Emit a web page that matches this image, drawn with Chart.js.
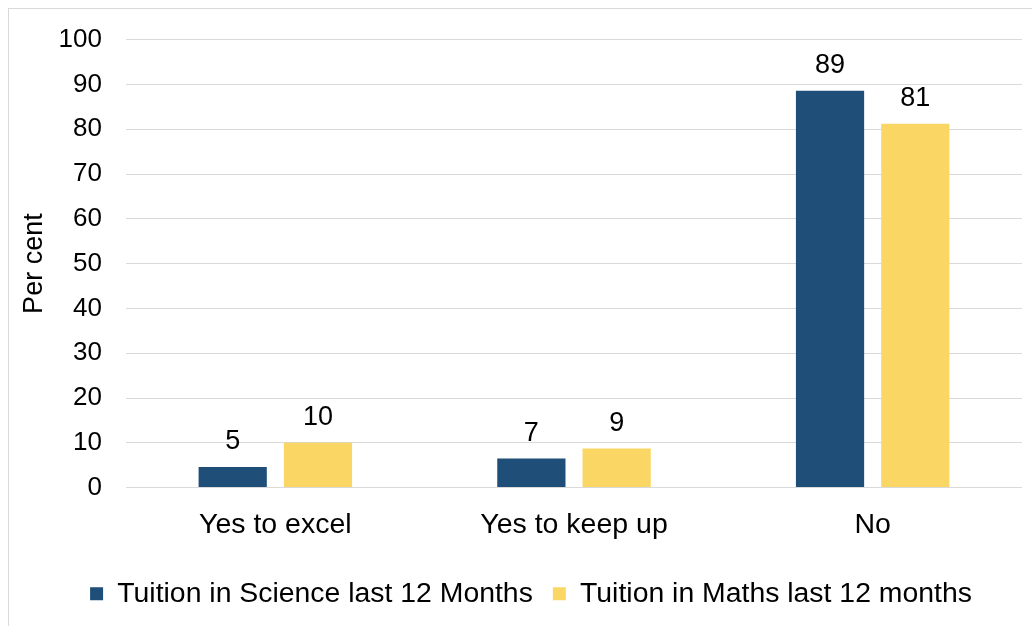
<!DOCTYPE html>
<html>
<head>
<meta charset="utf-8">
<script src="https://cdn.jsdelivr.net/npm/chart.js@4"></script>
<style>
  html, body { margin: 0; padding: 0; background: #fff; }
  #wrap { position: relative; width: 1032px; height: 626px; overflow: hidden; }
  #frame { position: absolute; left: 8px; top: 8px; width: 1040px; height: 640px; border: 1px solid #d9d9d9; }
  canvas { position: absolute; left: 0; top: 0; }
</style>
</head>
<body>
<div id="wrap">
  <div id="frame"></div>
  <canvas id="chart" width="1032" height="626"></canvas>
</div>
<script>
const categories = ["Yes to excel", "Yes to keep up", "No"];
const scienceValues = [4.6, 6.5, 88.6];
const mathsValues = [10.0, 8.7, 81.2];
const seriesNames = ["Tuition in Science last 12 Months", "Tuition in Maths last 12 months"];
const seriesColors = ["#1F4E79", "#FAD764"];

const FONT = "'Liberation Sans', Arial, sans-serif";

// nhãn giá trị trên đầu cột
const barLabels = {
  id: "barLabels",
  afterDatasetsDraw(chart) {
    const ctx = chart.ctx;
    ctx.save();
    ctx.font = "27px " + FONT;
    ctx.fillStyle = "#000";
    ctx.textAlign = "center";
    ctx.textBaseline = "middle";
    chart.data.datasets.forEach((ds, i) => {
      chart.getDatasetMeta(i).data.forEach((bar, j) => {
        ctx.fillText(String(Math.round(ds.data[j])), bar.x, bar.y - 25);
      });
    });
    ctx.restore();
  },
};

// đẩy chú thích sang phải một chút cho giống bản gốc
const legendShift = {
  id: "legendShift",
  afterLayout(chart) {
    if (!chart.legend) return;
    chart.legend.left += 20;
    chart.legend.right += 20;
  },
};

new Chart(document.getElementById("chart"), {
  type: "bar",
  data: {
    labels: categories,
    datasets: [
      { label: seriesNames[0], data: scienceValues, backgroundColor: seriesColors[0] },
      { label: seriesNames[1], data: mathsValues, backgroundColor: seriesColors[1] },
    ],
  },
  options: {
    responsive: false,
    animation: false,
    devicePixelRatio: 1,
    categoryPercentage: 0.571,
    barPercentage: 0.8,
    layout: { padding: { top: 30, right: 10, left: 0, bottom: 8 } },
    plugins: {
      legend: {
        position: "bottom",
        labels: {
          boxWidth: 13,
          boxHeight: 13,
          padding: 20,
          color: "#000",
          font: { size: 28.4, family: FONT },
        },
      },
      tooltip: { enabled: false },
    },
    scales: {
      x: {
        grid: { display: false },
        border: { display: false },
        ticks: { color: "#000", padding: 12, font: { size: 28.5, family: FONT } },
        afterFit(scale) { scale.height = 72; },
      },
      y: {
        min: 0,
        max: 100,
        ticks: { stepSize: 10, color: "#000", padding: 24, font: { size: 26, family: FONT } },
        grid: { color: "#d9d9d9", drawTicks: false },
        border: { display: false },
        title: {
          display: true,
          text: "Per cent",
          color: "#000",
          font: { size: 27, family: FONT },
          padding: { top: 18, bottom: 0 },
        },
        afterFit(scale) { scale.width = 126; },
      },
    },
  },
  plugins: [barLabels, legendShift],
});
</script>
</body>
</html>
